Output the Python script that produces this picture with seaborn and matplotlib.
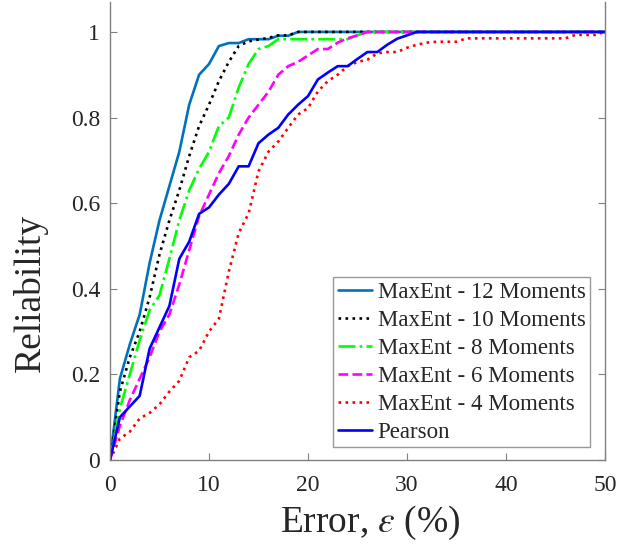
import numpy as np
import pandas as pd
import matplotlib
matplotlib.use('Agg')
import matplotlib.pyplot as plt
import seaborn as sns

# error levels (%)
error = list(range(0, 51))

# reliability curves
maxent_12 = [0, 0.19, 0.27, 0.34, 0.46, 0.56, 0.64, 0.72, 0.83, 0.90, 0.925,
             0.967, 0.974, 0.974, 0.983, 0.983, 0.983, 0.991, 0.991] + [1.0] * 32
maxent_10 = [0, 0.16, 0.24, 0.30, 0.38, 0.48, 0.56, 0.63, 0.71, 0.78, 0.83,
             0.885, 0.93, 0.967, 0.978, 0.982, 0.986, 0.992, 0.992] + [1.0] * 32
maxent_8 = [0, 0.12, 0.20, 0.28, 0.35, 0.385, 0.47, 0.56, 0.63, 0.68, 0.72,
            0.78, 0.80, 0.87, 0.925, 0.96, 0.967] + [0.983] * 8 + [0.992] + [1.0] * 25
maxent_6 = [0, 0.08, 0.14, 0.19, 0.24, 0.30, 0.34, 0.41, 0.49, 0.57, 0.62,
            0.67, 0.71, 0.76, 0.80, 0.83, 0.86, 0.90, 0.92, 0.93, 0.945,
            0.96, 0.96, 0.975, 0.985, 0.992] + [1.0] * 25
maxent_4 = [0, 0.05, 0.066, 0.097, 0.11, 0.13, 0.16, 0.185, 0.24, 0.255, 0.30,
            0.33, 0.44, 0.53, 0.576, 0.674, 0.72, 0.744, 0.776, 0.807, 0.822,
            0.861, 0.885, 0.90, 0.92, 0.93, 0.935, 0.95, 0.953, 0.953, 0.963,
            0.97, 0.975, 0.977, 0.977, 0.977] + [0.985] * 11 + [0.993] * 3 + [1.0]
pearson = [0, 0.10, 0.125, 0.15, 0.26, 0.31, 0.36, 0.47, 0.51, 0.575, 0.59,
           0.62, 0.645, 0.686, 0.686, 0.74, 0.76, 0.776, 0.807, 0.83, 0.85,
           0.889, 0.905, 0.92, 0.92, 0.937, 0.953, 0.953, 0.97, 0.984, 0.992] + [1.0] * 20

series = [
    ('MaxEnt - 12 Moments', maxent_12, '#0072BD', '-'),
    ('MaxEnt - 10 Moments', maxent_10, 'black', ':'),
    ('MaxEnt - 8 Moments', maxent_8, '#00FF00', '-.'),
    ('MaxEnt - 6 Moments', maxent_6, '#FF00FF', '--'),
    ('MaxEnt - 4 Moments', maxent_4, '#FF0000', ':'),
    ('Pearson', pearson, '#0000FF', '-'),
]

sns.set_style('ticks')
plt.rcParams['font.family'] = ['Liberation Serif', 'DejaVu Serif']
plt.rcParams['mathtext.fontset'] = 'stix'

fig = plt.figure(figsize=(6.3, 5.44), dpi=100)
ax = fig.add_axes([0.1746, 0.1544, 0.7857, 0.842])

for name, vals, color, ls in series:
    df = pd.DataFrame({'Error': error, 'Reliability': vals})
    sns.lineplot(data=df, x='Error', y='Reliability', ax=ax, color=color,
                 linestyle=ls, linewidth=1.9, label=name)

ax.set_xlim(0, 50)
ax.set_ylim(0, 1.07)
ax.set_xticks([0, 10, 20, 30, 40, 50])
ax.set_yticks([0, 0.2, 0.4, 0.6, 0.8, 1])
ax.set_yticklabels(['0', '0.2', '0.4', '0.6', '0.8', '1'])
ax.tick_params(direction='in', labelsize=17, length=5, color='#808080',
               right=True, top=False)
ax.tick_params(axis='x', pad=11)
ax.tick_params(axis='y', pad=7)
for side in ['left', 'right', 'bottom']:
    ax.spines[side].set_color('#808080')
    ax.spines[side].set_linewidth(1)
ax.spines['top'].set_visible(False)

ax.set_xlabel(r'Error, $\varepsilon$ (%)', fontsize=27)
ax.set_ylabel('Reliability', fontsize=27)
ax.xaxis.set_label_coords(0.525, -0.095)
ax.yaxis.set_label_coords(-0.125, 0.365)

leg = ax.legend(loc='lower right', bbox_to_anchor=(0.97, 0.028), borderaxespad=0,
                fontsize=16.5, frameon=True, fancybox=False, handlelength=1.5,
                handletextpad=0.25, labelspacing=0.3, borderpad=0.2)
leg.get_frame().set_edgecolor('#808080')
leg.get_frame().set_linewidth(1)

fig.savefig('out.png', dpi=100)
